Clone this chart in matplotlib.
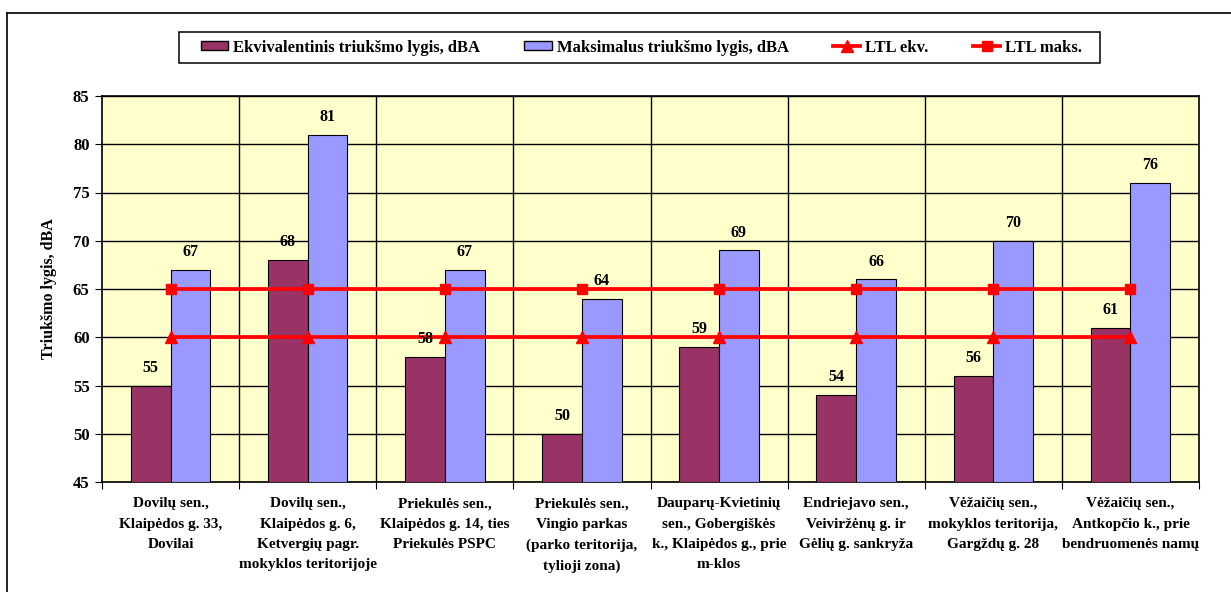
import matplotlib
matplotlib.use("Agg")
import matplotlib.pyplot as plt
import numpy as np
from matplotlib.lines import Line2D
from matplotlib.patches import Patch, Rectangle

categories = [
    "Dovilų sen.,\nKlaipėdos g. 33,\nDovilai",
    "Dovilų sen.,\nKlaipėdos g. 6,\nKetvergių pagr.\nmokyklos teritorijoje",
    "Priekulės sen.,\nKlaipėdos g. 14, ties\nPriekulės PSPC",
    "Priekulės sen.,\nVingio parkas\n(parko teritorija,\ntylioji zona)",
    "Dauparų-Kvietinių\nsen., Gobergiškės\nk., Klaipėdos g., prie\nm-klos",
    "Endriejavo sen.,\nVeiviržėnų g. ir\nGėlių g. sankryža",
    "Vėžaičių sen.,\nmokyklos teritorija,\nGargždų g. 28",
    "Vėžaičių sen.,\nAntkopčio k., prie\nbendruomenės namų",
]
ekv = [55, 68, 58, 50, 59, 54, 56, 61]
maks = [67, 81, 67, 64, 69, 66, 70, 76]
ltl_ekv = [60] * 8
ltl_maks = [65] * 8
yticks = [45, 50, 55, 60, 65, 70, 75, 80, 85]

series_names = ["Ekvivalentinis triukšmo lygis, dBA", "Maksimalus triukšmo lygis, dBA",
                "LTL ekv.", "LTL maks."]
ylabel = "Triukšmo lygis, dBA"

plt.rcParams['font.family'] = ['Liberation Serif', 'DejaVu Serif']
plt.rcParams['font.weight'] = 'bold'

W, H = 1231, 592
fig = plt.figure(figsize=(W / 100, H / 100), dpi=100)
ax = fig.add_axes([102 / W, 1 - 482 / H, (1199 - 102) / W, (482 - 96) / H])
ax.set_facecolor("#FFFFCC")

maroon = "#993366"
blue = "#9999FF"
red = "#FF0000"

x = np.arange(len(categories))
bw = 0.29
ax.bar(x - bw / 2, [v - 45 for v in ekv], bw, bottom=45, color=maroon,
       edgecolor="black", linewidth=0.8, zorder=3)
ax.bar(x + bw / 2, [v - 45 for v in maks], bw, bottom=45, color=blue,
       edgecolor="black", linewidth=0.8, zorder=3)
for xi, v in zip(x - bw / 2, ekv):
    ax.annotate(str(v), (xi, v), xytext=(0, 7), textcoords="offset points",
                ha="center", va="bottom", fontsize=11.5, fontweight="bold", zorder=6)
for xi, v in zip(x + bw / 2, maks):
    ax.annotate(str(v), (xi, v), xytext=(0, 7), textcoords="offset points",
                ha="center", va="bottom", fontsize=11.5, fontweight="bold", zorder=6)

ax.plot(x, ltl_ekv, color=red, lw=2.7, marker="^", ms=8, zorder=5)
ax.plot(x, ltl_maks, color=red, lw=2.7, marker="s", ms=7, zorder=5)

ax.set_xlim(-0.5, len(categories) - 0.5)
ax.set_ylim(45, 85)
ax.set_yticks(yticks)
ax.set_yticklabels([str(t) for t in yticks], fontsize=12, fontweight="bold")
ax.yaxis.grid(True, color="black", lw=1, zorder=1)
for b in np.arange(0.5, len(categories) - 0.5, 1):
    ax.axvline(b, color="black", lw=1, zorder=1)
ax.set_xticks(np.arange(-0.5, len(categories), 1))
ax.set_xticklabels([])
ax.set_xticks(x, minor=True)
ax.set_xticklabels(categories, minor=True, fontsize=11, fontweight="bold",
                   linespacing=1.74, va="top")
ax.tick_params(axis="x", which="minor", length=0, pad=11)
ax.tick_params(axis="x", which="major", length=5, direction="out", color="black")
ax.tick_params(axis="y", length=5, direction="out", pad=4)
for s in ax.spines.values():
    s.set_color("black")
    s.set_linewidth(1.2)
ax.set_ylabel(ylabel, fontsize=11.5, fontweight="bold", labelpad=11)

handles = [
    Patch(facecolor=maroon, edgecolor="black"),
    Patch(facecolor=blue, edgecolor="black"),
    Line2D([], [], color=red, lw=2.7, marker="^", ms=8),
    Line2D([], [], color=red, lw=2.7, marker="s", ms=7),
]
leg = fig.legend(handles, series_names, loc="center", ncol=4,
                 bbox_to_anchor=(641.5 / W, 1 - 47.5 / H), frameon=False,
                 fontsize=12, handlelength=1.65, handleheight=0.45, handletextpad=0.3,
                 columnspacing=2.65, borderpad=0.3)
for t in leg.get_texts():
    t.set_fontweight("bold")
fig.add_artist(Rectangle((179 / W, 1 - 63 / H), (1100 - 179) / W, 31 / H,
                         transform=fig.transFigure, facecolor="none",
                         edgecolor="black", lw=1.1))

fig.add_artist(Line2D([7 / W, 7 / W], [0, 1 - 13 / H], color="black", lw=1.2,
                      transform=fig.transFigure))
fig.add_artist(Line2D([7 / W, 1], [1 - 13 / H, 1 - 13 / H], color="black", lw=1.2,
                      transform=fig.transFigure))

fig.savefig("out.png", dpi=100, facecolor="white")
